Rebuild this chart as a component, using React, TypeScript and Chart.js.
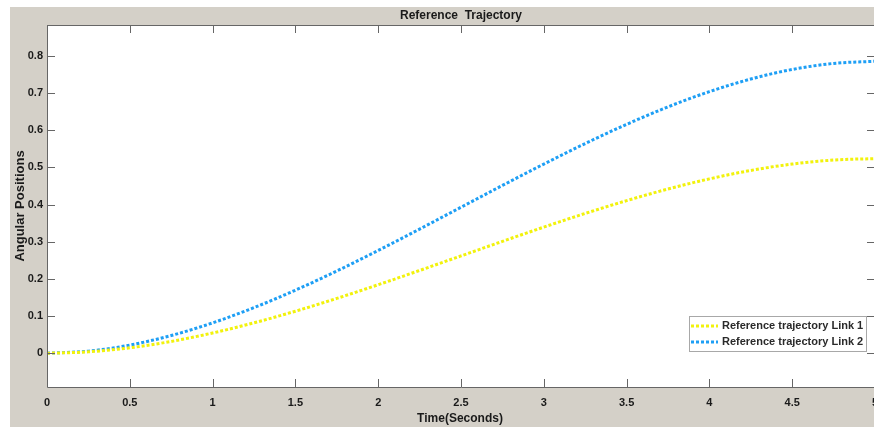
import React, { useEffect, useRef } from "react";
import { Chart, registerables } from "chart.js";

Chart.register(...registerables);

const times = [0, 0.25, 0.5, 0.75, 1, 1.25, 1.5, 1.75, 2, 2.25, 2.5, 2.75, 3, 3.25, 3.5, 3.75, 4, 4.25, 4.5, 4.75, 5];
const link1 = [0, 0.0038, 0.0147, 0.0318, 0.0545, 0.0818, 0.1131, 0.1475, 0.1843, 0.2227, 0.2618, 0.3009, 0.3393, 0.3761, 0.4105, 0.4418, 0.4691, 0.4918, 0.5089, 0.5198, 0.5236];
const link2 = [0, 0.0057, 0.022, 0.0477, 0.0817, 0.1227, 0.1696, 0.2213, 0.2765, 0.334, 0.3927, 0.4514, 0.5089, 0.5641, 0.6158, 0.6627, 0.7037, 0.7377, 0.7634, 0.7797, 0.7854];
const xTicks = [0, 0.5, 1, 1.5, 2, 2.5, 3, 3.5, 4, 4.5, 5];
const xTickLabels = ["0", "0.5", "1", "1.5", "2", "2.5", "3", "3.5", "4", "4.5", "5"];
const yTicks = [0, 0.1, 0.2, 0.3, 0.4, 0.5, 0.6, 0.7, 0.8];
const yTickLabels = ["0", "0.1", "0.2", "0.3", "0.4", "0.5", "0.6", "0.7", "0.8"];
const seriesNames = ["Reference trajectory Link 1", "Reference trajectory Link 2"];
const seriesColors = ["#f2f20c", "#1e9ff5"];
const titleText = "Reference  Trajectory";
const xTitle = "Time(Seconds)";
const yTitle = "Angular Positions";

const FONT = '"Liberation Sans", Arial, Helvetica, sans-serif';

const matlabPlugin = {
  id: "matlabLook",
  beforeDraw(chart: any) {
    const { ctx, chartArea: a } = chart;
    ctx.save();
    ctx.fillStyle = "#ffffff";
    ctx.fillRect(0, 0, chart.width, chart.height);
    ctx.fillStyle = "#d4d0c8";
    ctx.fillRect(10, 7, 864, 420);
    ctx.fillStyle = "#ffffff";
    ctx.fillRect(a.left, a.top, a.right - a.left, a.bottom - a.top);
    ctx.restore();
  },
  afterDraw(chart: any) {
    const { ctx, chartArea: a } = chart;
    const xs = chart.scales.x;
    const ys = chart.scales.y;
    ctx.save();
    // frame
    ctx.strokeStyle = "#666666";
    ctx.lineWidth = 1;
    ctx.beginPath();
    ctx.rect(Math.round(a.left) + 0.5, Math.round(a.top) + 0.5, Math.round(a.right - a.left), Math.round(a.bottom - a.top));
    ctx.stroke();
    // ticks
    ctx.beginPath();
    xTicks.forEach((v) => {
      const px = Math.round(xs.getPixelForValue(v)) + 0.5;
      ctx.moveTo(px, a.bottom);
      ctx.lineTo(px, a.bottom - 8);
      ctx.moveTo(px, a.top);
      ctx.lineTo(px, a.top + 8);
    });
    yTicks.forEach((v) => {
      const py = Math.round(ys.getPixelForValue(v)) + 0.5;
      ctx.moveTo(a.left, py);
      ctx.lineTo(a.left + 8, py);
      ctx.moveTo(a.right, py);
      ctx.lineTo(a.right - 8, py);
    });
    ctx.stroke();
    // tick labels
    ctx.fillStyle = "#1a1a1a";
    ctx.font = `bold 11px ${FONT}`;
    ctx.textAlign = "center";
    ctx.textBaseline = "middle";
    xTicks.forEach((v, i) => {
      ctx.fillText(xTickLabels[i], xs.getPixelForValue(v), a.bottom + 16);
    });
    ctx.textAlign = "right";
    yTicks.forEach((v, i) => {
      ctx.fillText(yTickLabels[i], a.left - 4, ys.getPixelForValue(v));
    });
    // titles
    ctx.font = `bold 12px ${FONT}`;
    ctx.textAlign = "center";
    ctx.fillText(titleText, 461, 16);
    ctx.fillText(xTitle, 460, 419);
    ctx.save();
    ctx.translate(20, 206);
    ctx.rotate(-Math.PI / 2);
    ctx.font = `bold 13px ${FONT}`;
    ctx.fillText(yTitle, 0, 0);
    ctx.restore();
    // legend
    const lx = 689, ly = 316, lw = 177, lh = 35;
    ctx.fillStyle = "#ffffff";
    ctx.fillRect(lx, ly, lw, lh);
    ctx.strokeStyle = "#a8a8a8";
    ctx.strokeRect(lx + 0.5, ly + 0.5, lw, lh);
    ctx.font = `bold 11px ${FONT}`;
    ctx.textAlign = "left";
    seriesNames.forEach((name, i) => {
      const cy = ly + 10 + i * 16;
      ctx.strokeStyle = seriesColors[i];
      ctx.lineWidth = 3;
      ctx.setLineDash([3, 2]);
      ctx.beginPath();
      ctx.moveTo(lx + 2, cy);
      ctx.lineTo(lx + 29, cy);
      ctx.stroke();
      ctx.setLineDash([]);
      ctx.fillStyle = "#2a2a2a";
      ctx.fillText(name, lx + 33, cy);
    });
    ctx.restore();
  },
};

export default function App() {
  const ref = useRef<HTMLCanvasElement>(null);
  useEffect(() => {
    if (!ref.current) return;
    const chart = new Chart(ref.current, {
      type: "line",
      data: {
        datasets: [
          {
            label: seriesNames[0],
            data: times.map((t, i) => ({ x: t, y: link1[i] })),
            borderColor: seriesColors[0],
            borderWidth: 3,
            borderDash: [3, 2],
            pointRadius: 0,
            cubicInterpolationMode: "monotone",
            fill: false,
          },
          {
            label: seriesNames[1],
            data: times.map((t, i) => ({ x: t, y: link2[i] })),
            borderColor: seriesColors[1],
            borderWidth: 3,
            borderDash: [3, 2],
            pointRadius: 0,
            cubicInterpolationMode: "monotone",
            fill: false,
          },
        ],
      },
      options: {
        responsive: false,
        animation: false,
        devicePixelRatio: 1,
        layout: { padding: { left: 47, top: 25, right: 5, bottom: 41 } },
        plugins: { legend: { display: false }, tooltip: { enabled: false }, title: { display: false } },
        scales: {
          x: { type: "linear", min: 0, max: 5, display: false },
          y: { type: "linear", min: -0.0908, max: 0.883, display: false },
        },
      },
      plugins: [matlabPlugin],
    } as any);
    return () => chart.destroy();
  }, []);
  return (
    <div style={{ position: "fixed", left: 0, top: 0, width: 874, height: 428, overflow: "hidden", background: "#fff" }}>
      <canvas ref={ref} width={880} height={428} style={{ width: 880, height: 428, display: "block" }} />
    </div>
  );
}
